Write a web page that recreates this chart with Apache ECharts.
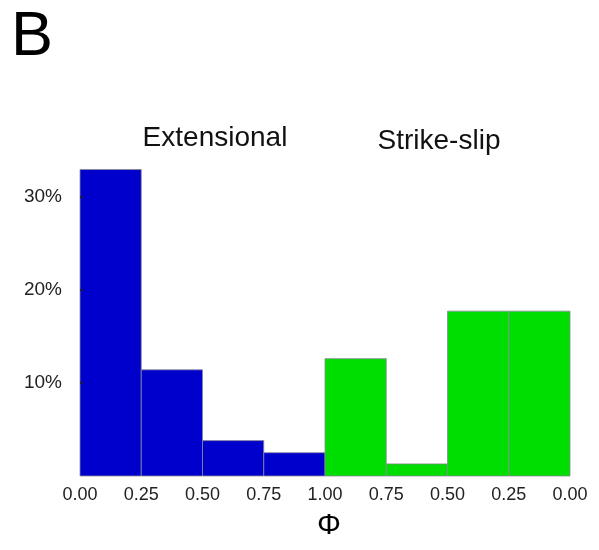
<!DOCTYPE html>
<html>
<head>
<meta charset="utf-8">
<script src="https://cdn.jsdelivr.net/npm/echarts@6/dist/echarts.min.js"></script>
<style>
  html, body { margin: 0; padding: 0; background: #fff; }
  #chart { width: 599px; height: 550px; }
</style>
</head>
<body>
<div id="chart"></div>
<script>
// Φ bins: four extensional bins (0 → 1) then four strike-slip bins (1 → 0)
const tickLabels = ['0.00', '0.25', '0.50', '0.75', '1.00', '0.75', '0.50', '0.25', '0.00'];
const extensionalPct = [32.9, 11.4, 3.8, 2.5];
const strikeSlipPct = [12.6, 1.3, 17.7, 17.7];
const yTicks = [10, 20, 30];
const groupNames = ['Extensional', 'Strike-slip'];

const BLUE = '#0000cc';
const GREEN = '#00dd00';

const bins = [];
extensionalPct.forEach((v, i) => bins.push({ value: [i, i + 1, v], color: BLUE }));
strikeSlipPct.forEach((v, i) => bins.push({ value: [4 + i, 5 + i, v], color: GREEN }));

const chart = echarts.init(document.getElementById('chart'), null, { renderer: 'canvas' });

chart.setOption({
  animation: false,
  backgroundColor: '#ffffff',
  grid: { left: 80, right: 29, top: 150, bottom: 74 },
  title: [
    { text: 'B', left: 6, top: 1, textStyle: { fontFamily: 'Liberation Sans', fontSize: 63, fontWeight: 'normal', color: '#000' } },
    { text: groupNames[0], left: 210, top: 119, textAlign: 'center', textStyle: { fontFamily: 'Liberation Sans', fontSize: 28, fontWeight: 'normal', color: '#111' } },
    { text: groupNames[1], left: 434, top: 122, textAlign: 'center', textStyle: { fontFamily: 'Liberation Sans', fontSize: 28, fontWeight: 'normal', color: '#111' } },
    { text: 'Φ', left: 324, top: 506, textAlign: 'center', textStyle: { fontFamily: 'Liberation Sans', fontSize: 30, fontWeight: 'normal', color: '#000' } }
  ],
  xAxis: {
    type: 'value',
    min: 0,
    max: 8,
    interval: 1,
    axisLine: { show: false },
    axisTick: { show: false },
    splitLine: { show: false },
    axisLabel: {
      margin: 10,
      fontFamily: 'Liberation Sans',
      fontSize: 18,
      color: '#222',
      formatter: v => tickLabels[Math.round(v)]
    }
  },
  yAxis: {
    type: 'value',
    min: 0,
    max: 35,
    z: 5,
    axisLine: { show: false },
    axisTick: { show: true, inside: true, length: 3, customValues: yTicks, lineStyle: { color: '#222', width: 1.5 } },
    splitLine: { show: false },
    axisLabel: {
      margin: 18,
      fontFamily: 'Liberation Sans',
      fontSize: 19,
      color: '#222',
      customValues: yTicks,
      formatter: v => v + '%'
    }
  },
  series: [{
    type: 'custom',
    data: bins,
    z: 1,
    renderItem: (params, api) => {
      const x0 = api.value(0), x1 = api.value(1), h = api.value(2);
      const p0 = api.coord([x0, 0]);
      const p1 = api.coord([x1, h]);
      return {
        type: 'rect',
        shape: { x: p0[0], y: p1[1], width: p1[0] - p0[0], height: p0[1] - p1[1] },
        style: { fill: bins[params.dataIndex].color, stroke: '#8a8a9a', lineWidth: 0.8 }
      };
    }
  }]
});
</script>
</body>
</html>
